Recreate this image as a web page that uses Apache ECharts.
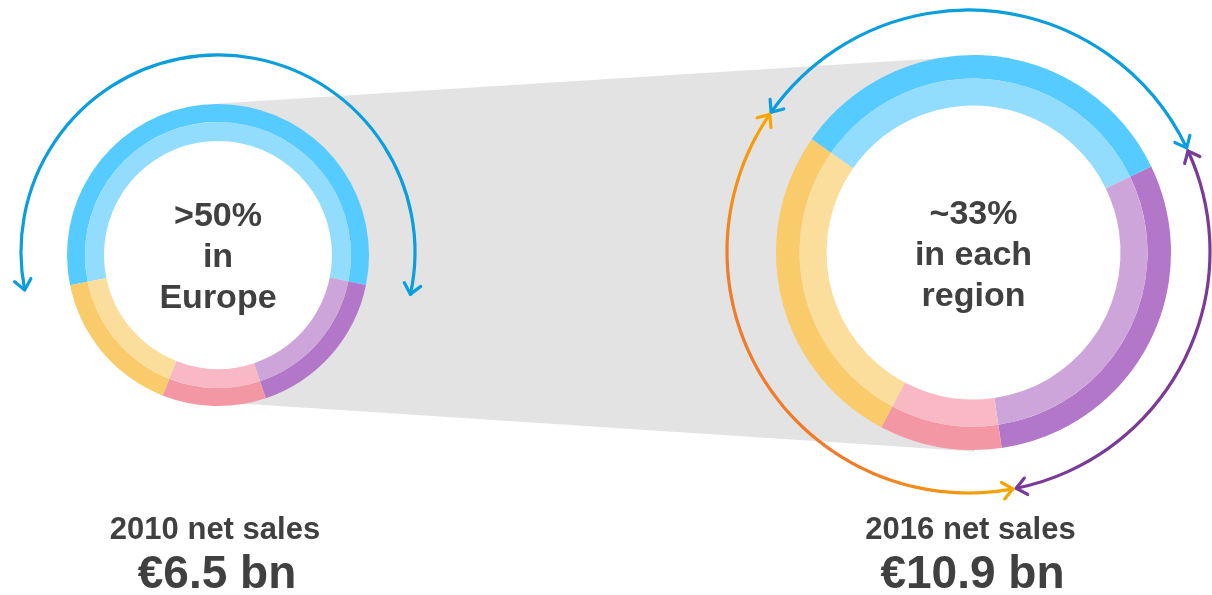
<!DOCTYPE html>
<html>
<head>
<meta charset="utf-8">
<script src="https://cdn.jsdelivr.net/npm/echarts@6/dist/echarts.min.js"></script>
<style>
  html, body { margin: 0; padding: 0; background: #fff; }
  #chart { width: 1212px; height: 595px; }
</style>
</head>
<body>
<div id="chart"></div>
<script>
// regional split of net sales (share in %)
const segments = ['Europe', 'Segment B', 'Segment C', 'Segment D'];
const share2010 = [56.4, 16.7, 11.1, 15.8];
const share2016 = [33.1, 29.9, 10.0, 27.0];

const years = ['2010', '2016'];
const salesLabels = ['€6.5 bn', '€10.9 bn'];
const centerTexts = ['>50%\nin\nEurope', '~33%\nin each\nregion'];

const outerColors = ['#55cbff', '#b377c9', '#f497a4', '#facb6b'];
const innerColors = ['#92dcfe', '#cea5da', '#f8b9c4', '#fbdd9c'];

const TEXT = '#404040';
const FONT = "'Liberation Sans', Arial, sans-serif";

const chart = echarts.init(document.getElementById('chart'));

// donut geometry
const left = { cx: 218, cy: 255, r0: 114, r1: 133, r2: 151, start: 191.6 };
const right = { cx: 973.5, cy: 252.5, r0: 147, r1: 174, r2: 197.5, start: 145 };

function ring(d, values, colors, rIn, rOut) {
  return {
    type: 'pie',
    center: [d.cx, d.cy],
    radius: [rIn, rOut],
    startAngle: d.start,
    silent: true,
    label: { show: false },
    labelLine: { show: false },
    emphasis: { disabled: true },
    itemStyle: { borderWidth: 0 },
    data: values.map((v, i) => ({ name: segments[i], value: v, itemStyle: { color: colors[i] } }))
  };
}

const rad = (a) => a * Math.PI / 180;
const LW = 3.2;

function arc(cx, cy, r, a0, a1, color) {
  return {
    type: 'arc', z: 1, silent: true,
    shape: { cx, cy, r, startAngle: rad(a0), endAngle: rad(a1), clockwise: true },
    style: { stroke: color, lineWidth: LW, fill: null, lineCap: 'round' }
  };
}

function head(cx, cy, r, a, atEnd, color) {
  const t = rad(a);
  const tip = [cx + r * Math.cos(t), cy + r * Math.sin(t)];
  const d = atEnd ? [-Math.sin(t), Math.cos(t)] : [Math.sin(t), -Math.cos(t)];
  const L = 13, h = rad(40);
  const arm = (s) => {
    const c = Math.cos(s * h), sn = Math.sin(s * h);
    const bx = -d[0], by = -d[1];
    return [tip[0] + L * (bx * c - by * sn), tip[1] + L * (bx * sn + by * c)];
  };
  return {
    type: 'polyline', z: 1, silent: true,
    shape: { points: [arm(1), tip, arm(-1)] },
    style: { stroke: color, lineWidth: LW, fill: null, lineCap: 'round', lineJoin: 'round' }
  };
}

function doubleArrow(cx, cy, r, a0, a1, color) {
  return [arc(cx, cy, r, a0, a1, color), head(cx, cy, r, a0, false, color), head(cx, cy, r, a1, true, color)];
}

function mix(c1, c2, k) {
  const p = (c) => [1, 3, 5].map((i) => parseInt(c.slice(i, i + 2), 16));
  const a = p(c1), b = p(c2);
  return 'rgb(' + a.map((v, i) => Math.round(v + (b[i] - v) * k)).join(',') + ')';
}

// orange arc fades from amber at its ends to orange in the middle
function gradientArc(cx, cy, r, a0, a1, cEnd, cMid) {
  const out = [];
  const n = 40;
  for (let i = 0; i < n; i++) {
    const s0 = a0 + (a1 - a0) * i / n;
    const s1 = a0 + (a1 - a0) * (i + 1.05) / n;
    const t = (i + 0.5) / n;
    const k = Math.min(1, 3.5 * Math.min(t, 1 - t));
    const el = arc(cx, cy, r, s0, Math.min(s1, a1), mix(cEnd, cMid, k));
    el.style.lineCap = 'butt';
    out.push(el);
  }
  out.push(head(cx, cy, r, a0, false, cEnd));
  out.push(head(cx, cy, r, a1, true, cEnd));
  return out;
}

const BLUE = '#0a9edc', PURPLE = '#7a3a96', AMBER = '#f6a600', ORANGE = '#f07b2b';
const rc = { cx: 968.5, cy: 251.5, r: 241.5 };

const graphics = [
  {
    type: 'polygon', z: 0, silent: true,
    shape: { points: [[218, 103.6], [975, 55.9], [975, 451.5], [218, 402]] },
    style: { fill: '#e3e3e3' }
  },
  { type: 'circle', z: 1, silent: true, shape: { cx: left.cx, cy: left.cy, r: left.r0 + 1 }, style: { fill: '#fff' } },
  { type: 'circle', z: 1, silent: true, shape: { cx: right.cx, cy: right.cy, r: right.r0 + 1 }, style: { fill: '#fff' } },
  ...doubleArrow(218, 252, 197, 168.9, 372.4, BLUE),
  ...doubleArrow(rc.cx, rc.cy, rc.r, 215.2, 334.6, BLUE),
  ...doubleArrow(rc.cx, rc.cy, rc.r, 335.4, 438.6, PURPLE),
  ...gradientArc(rc.cx, rc.cy, rc.r, 79.4, 214.6, AMBER, ORANGE)
];

[left, right].forEach((d, i) => {
  graphics.push({
    type: 'text', z: 10, silent: true, x: d.cx, y: d.cy + 3,
    style: {
      text: centerTexts[i], fill: TEXT, font: 'bold 34px ' + FONT,
      align: 'center', verticalAlign: 'middle', lineHeight: 41
    }
  });
  graphics.push({
    type: 'text', z: 10, silent: true, x: d.cx - 3, y: 530,
    style: {
      text: years[i] + ' net sales', fill: TEXT, font: 'bold 31px ' + FONT,
      align: 'center', verticalAlign: 'middle'
    }
  });
  graphics.push({
    type: 'text', z: 10, silent: true, x: d.cx - 1, y: 575,
    style: {
      text: salesLabels[i], fill: TEXT, font: 'bold 46px ' + FONT,
      align: 'center', verticalAlign: 'middle'
    }
  });
});

chart.setOption({
  backgroundColor: '#fff',
  animation: false,
  tooltip: { show: false },
  graphic: graphics,
  series: [
    ring(left, share2010, outerColors, left.r1, left.r2),
    ring(left, share2010, innerColors, left.r0, left.r1),
    ring(right, share2016, outerColors, right.r1, right.r2),
    ring(right, share2016, innerColors, right.r0, right.r1)
  ]
});
</script>
</body>
</html>
